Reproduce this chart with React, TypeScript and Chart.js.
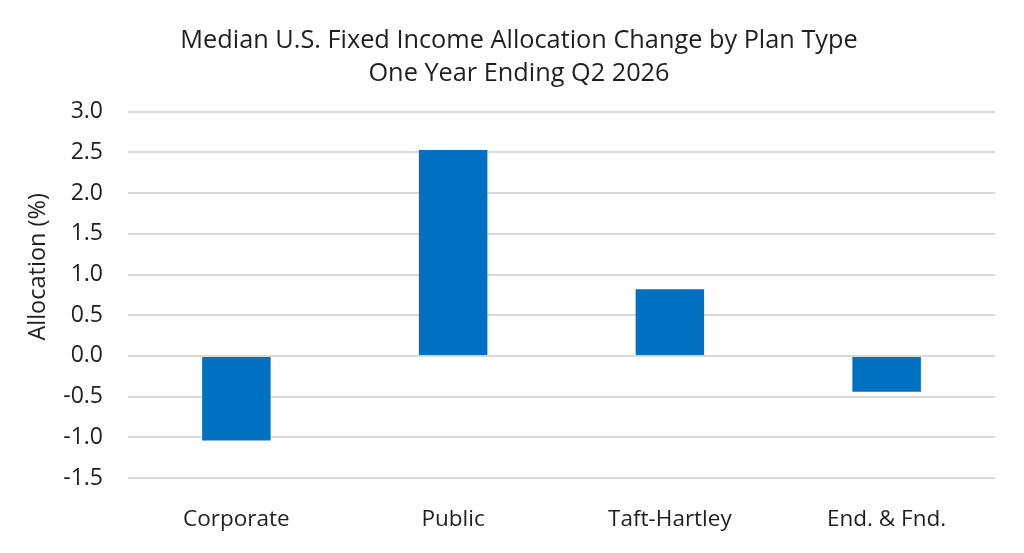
import React, { useEffect, useRef } from "react";
import { Chart, registerables } from "chart.js";

Chart.register(...registerables);

const titleLines = ["Median U.S. Fixed Income Allocation Change by Plan Type", "One Year Ending Q2 2026"];
const categories = ["Corporate", "Public", "Taft-Hartley", "End. & Fnd."];
const allocationChange = [-1.04, 2.53, 0.82, -0.44];
const yAxisTitle = "Allocation (%)";
const yMin = -1.5;
const yMax = 3.0;
const yStep = 0.5;

const FONT = "'Open Sans', sans-serif";
const TEXT = "#1f1f1f";

const yTitlePlugin = {
  id: "yTitlePlugin",
  afterDraw(chart: any) {
    const { ctx, chartArea } = chart;
    ctx.save();
    ctx.translate(chartArea.left - 90, (chartArea.top + chartArea.bottom) / 2 - 28);
    ctx.rotate(-Math.PI / 2);
    ctx.font = `23.5px ${FONT}`;
    ctx.fillStyle = TEXT;
    ctx.textAlign = "center";
    ctx.textBaseline = "middle";
    ctx.fillText(yAxisTitle, 0, 0);
    ctx.restore();
  },
};

export default function App() {
  const ref = useRef<HTMLCanvasElement | null>(null);

  useEffect(() => {
    document.body.style.margin = "0";
    const canvas = ref.current;
    if (!canvas) return;
    const chart = new Chart(canvas, {
      type: "bar",
      data: {
        labels: categories,
        datasets: [
          {
            data: allocationChange,
            backgroundColor: "#0070C0",
            borderWidth: 0,
            barPercentage: 0.316,
            categoryPercentage: 1,
          },
        ],
      },
      options: {
        animation: false,
        responsive: false,
        devicePixelRatio: 1,
        layout: { padding: { left: 43, right: 29, top: 0, bottom: 0 } },
        plugins: {
          legend: { display: false },
          tooltip: { enabled: false },
          title: {
            display: true,
            text: titleLines,
            color: TEXT,
            font: { family: FONT, size: 25.3, weight: "normal", lineHeight: 1.3 },
            padding: { top: 24, bottom: 22 },
          },
        },
        scales: {
          x: {
            grid: { display: false },
            border: { display: false },
            ticks: {
              color: TEXT,
              font: { family: FONT, size: 22.5 },
              padding: 20,
              maxRotation: 0,
            },
            afterFit: (scale: any) => {
              scale.height = 75;
            },
          },
          y: {
            min: yMin,
            max: yMax,
            grid: { color: "#d9d9d9", lineWidth: 2, drawTicks: false },
            border: { display: false },
            ticks: {
              stepSize: yStep,
              color: TEXT,
              font: { family: FONT, size: 23 },
              padding: 25,
              callback: (v: any) => Number(v).toFixed(1),
            },
            afterFit: (scale: any) => {
              scale.width = 85;
            },
          },
        },
      },
      plugins: [yTitlePlugin],
    });
    return () => chart.destroy();
  }, []);

  return <canvas ref={ref} width={1024} height={553} style={{ display: "block" }} />;
}
